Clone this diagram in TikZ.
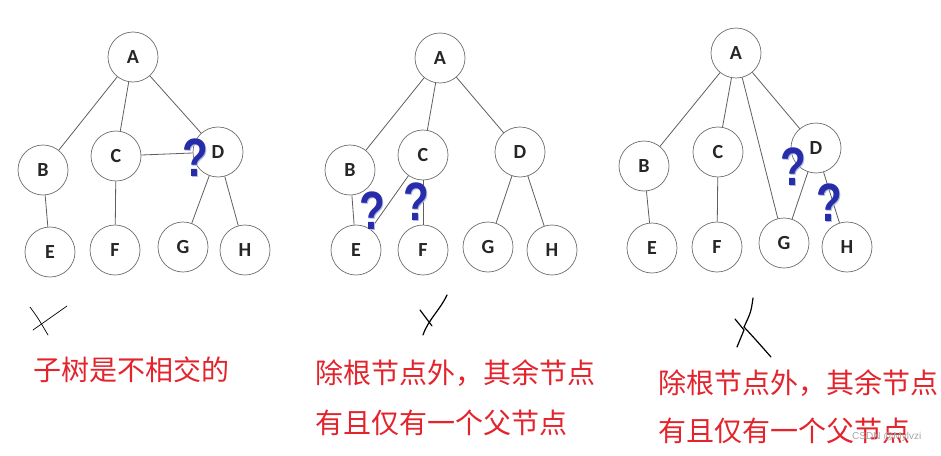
\documentclass[tikz,border=0pt]{standalone}
\usepackage{fontspec}
\setmainfont{Carlito}
\newfontfamily\cjk{Noto Sans CJK SC}
\newfontfamily\qfont{Liberation Sans}
\newfontfamily\wmfont{Liberation Sans}
\definecolor{qblue}{RGB}{38,44,170}
\definecolor{qshadow}{RGB}{175,185,220}
\definecolor{redtext}{RGB}{228,36,44}
\definecolor{edgecol}{RGB}{95,95,95}
\definecolor{circcol}{RGB}{110,110,110}
\newcommand{\qmark}{\makebox[0pt][l]{\hspace{1.5pt}\raisebox{-1.5pt}{\textcolor{qshadow}{?}}}\textcolor{qblue}{?}}
\begin{document}
\begin{tikzpicture}[x=1pt,y=-1pt,
  nd/.style={circle, draw=circcol, line width=0.7pt, minimum size=50pt, inner sep=0pt, fill=white,
    font=\fontsize{20}{20}\selectfont\bfseries, text=black!85},
  edge/.style={draw=edgecol, line width=0.8pt},
  qm/.style={font=\qfont\bfseries\fontsize{54}{54}\selectfont, inner sep=0pt, xscale=0.78},
  lab/.style={font=\cjk\fontsize{28}{28}\selectfont, text=redtext, anchor=west, inner sep=0pt},
  mk/.style={draw=black, line width=1.2pt, line cap=round}
]
\useasboundingbox (0,0) rectangle (941,455);
\fill[white] (0,0) rectangle (941,455);

% ---------- tree 1 ----------
\node[nd] (a1) at (133,57) {A};
\node[nd] (b1) at (43,170) {B};
\node[nd] (c1) at (116,156) {C};
\node[nd] (d1) at (218,152) {D};
\node[nd] (e1) at (50,252) {E};
\node[nd] (f1) at (115,250) {F};
\node[nd] (g1) at (183,247) {G};
\node[nd] (h1) at (245,250) {H};
\draw[edge] (a1) -- (b1);
\draw[edge] (a1) -- (c1);
\draw[edge] (a1) -- (d1);
\draw[edge] (b1) -- (e1);
\draw[edge] (c1) -- (f1);
\draw[edge] (c1) -- (d1);
\draw[edge] (d1) -- (g1);
\draw[edge] (d1) -- (h1);
\node[qm] (q1) at (195,158) {\qmark};

% ---------- tree 2 ----------
\node[nd] (a2) at (440,58) {A};
\node[nd] (b2) at (350,170) {B};
\node[nd] (c2) at (423,155) {C};
\node[nd] (d2) at (520,152) {D};
\node[nd] (e2) at (356,250) {E};
\node[nd] (f2) at (423,250) {F};
\node[nd] (g2) at (488,247) {G};
\node[nd] (h2) at (552,250) {H};
\draw[edge] (a2) -- (b2);
\draw[edge] (a2) -- (c2);
\draw[edge] (a2) -- (d2);
\draw[edge] (b2) -- (e2);
\draw[edge] (c2) -- (e2);
\draw[edge] (c2) -- (f2);
\draw[edge] (d2) -- (g2);
\draw[edge] (d2) -- (h2);
\node[qm] (q2) at (372,211) {\qmark};
\node[qm] (q3) at (416,202) {\qmark};

% ---------- tree 3 ----------
\node[nd] (a3) at (736,53) {A};
\node[nd] (b3) at (644,166) {B};
\node[nd] (c3) at (718,152) {C};
\node[nd] (d3) at (816,148) {D};
\node[nd] (e3) at (652,248) {E};
\node[nd] (f3) at (717,247) {F};
\node[nd] (g3) at (784,243) {G};
\node[nd] (h3) at (847,247) {H};
\draw[edge] (a3) -- (b3);
\draw[edge] (a3) -- (c3);
\draw[edge] (a3) -- (d3);
\draw[edge] (a3) -- (g3);
\draw[edge] (b3) -- (e3);
\draw[edge] (c3) -- (f3);
\draw[edge] (d3) -- (g3);
\draw[edge] (d3) -- (h3);
\node[qm] (q4) at (793,167) {\qmark};
\node[qm] (q5) at (829,203) {\qmark};

% ---------- hand marks ----------
\draw[mk, line width=0.7pt] (30,307) .. controls (38,318) .. (48,335);
\draw[mk, line width=0.7pt] (67,306) .. controls (50,318) .. (33,330);
\draw[mk] (447,295) .. controls (440,310) and (428,320) .. (423,335);
\draw[mk] (420,310) -- (432,326);
\draw[mk] (753,298) .. controls (751,312) .. (744,327) .. controls (756,340) .. (771,357);
\draw[mk] (735,319) -- (744,330) -- (737,347);

% ---------- labels ----------
\node[lab] (t1) at (33,370) {子树是不相交的};
\node[lab] (t2) at (315,373) {除根节点外，其余节点};
\node[lab] (t3) at (315,423) {有且仅有一个父节点};
\node[lab] (t4) at (658,383) {除根节点外，其余节点};
\node[lab] (t5) at (658,431) {有且仅有一个父节点};
\node[font=\wmfont\fontsize{10}{10}\selectfont, text=gray!70, anchor=west, inner sep=0pt] (wm) at (852,437) {CSDN @Mylvzi};
\end{tikzpicture}
\end{document}
